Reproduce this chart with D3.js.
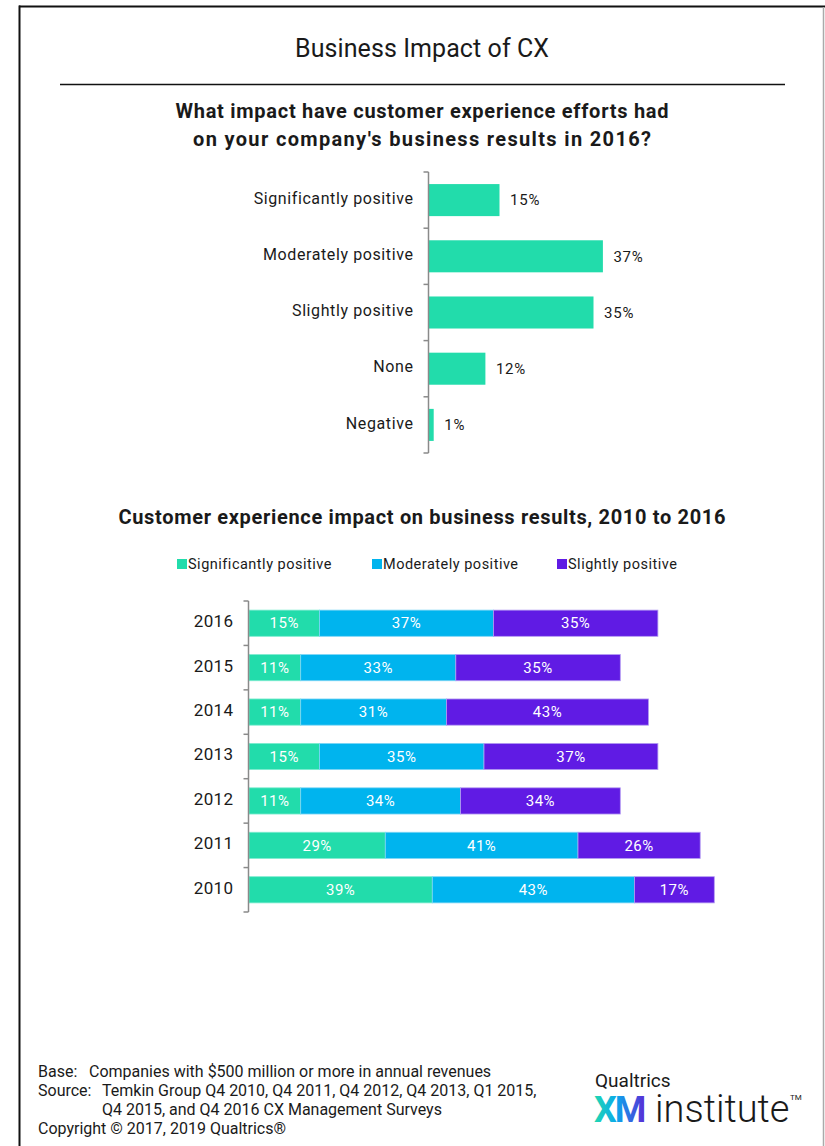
<!DOCTYPE html>
<html>
<head>
<meta charset="utf-8">
<script src="https://cdn.jsdelivr.net/npm/d3@7"></script>
<style>
  html, body { margin: 0; padding: 0; background: #fff; }
  svg { display: block; }
  text { font-family: Roboto, "Liberation Sans", sans-serif; fill: #1a1a1a; }
</style>
</head>
<body>
<svg id="chart" width="825" height="1146"></svg>
<script>
// ---- Data ----
const impactCategories = ["Significantly positive", "Moderately positive", "Slightly positive", "None", "Negative"];
const impactValues = [15, 37, 35, 12, 1];

const years = ["2016", "2015", "2014", "2013", "2012", "2011", "2010"];
const seriesNames = ["Significantly positive", "Moderately positive", "Slightly positive"];
const significantlyPositive = [15, 11, 11, 15, 11, 29, 39];
const moderatelyPositive = [37, 33, 31, 35, 34, 41, 43];
const slightlyPositive = [35, 35, 43, 37, 34, 26, 17];

const colors = ["#22dcab", "#00b4ee", "#601be4"];
const strokeColors = ["#7eecd0", "#7fd6f5", "#b49cf2"];

const svg = d3.select("#chart");

// ---- Frame ----
svg.append("line").attr("x1", 19).attr("x2", 825).attr("y1", 6.5).attr("y2", 6.5)
  .attr("stroke", "#111").attr("stroke-width", 2);
svg.append("line").attr("x1", 19.5).attr("x2", 19.5).attr("y1", 5.5).attr("y2", 1146)
  .attr("stroke", "#111").attr("stroke-width", 2);
svg.append("line").attr("x1", 823.5).attr("x2", 823.5).attr("y1", 7).attr("y2", 1146)
  .attr("stroke", "#aaa").attr("stroke-width", 1.5);

// ---- Headings ----
function heading(y, size, weight, width, str) {
  return svg.append("text").attr("x", 422).attr("y", y).attr("text-anchor", "middle")
    .style("font-size", size + "px").style("font-weight", weight)
    .attr("textLength", width).attr("lengthAdjust", "spacing")
    .text(str);
}
heading(57, 25, "normal", 254, "Business Impact of CX");
svg.append("line").attr("x1", 60).attr("x2", 785).attr("y1", 84.5).attr("y2", 84.5)
  .attr("stroke", "#111").attr("stroke-width", 1.5);
heading(118, 20, "bold", 493, "What impact have customer experience efforts had");
heading(146, 20, "bold", 458, "on your company's business results in 2016?");

// Shared percentage scale for both charts
const x = d3.scaleLinear().domain([0, 100]).range([0, 470]);

// Draws a vertical category axis with tick marks at band boundaries
function boundaryAxis(g, band) {
  const [y0, y1] = band.range();
  const n = band.domain().length;
  const step = band.step();
  g.append("line").attr("x1", 0).attr("x2", 0).attr("y1", y0).attr("y2", y1)
    .attr("stroke", "#8a8a8a").attr("stroke-width", 1.5);
  g.selectAll("line.tick").data(d3.range(n + 1)).join("line")
    .attr("class", "tick")
    .attr("x1", -5).attr("x2", 0)
    .attr("y1", i => y0 + i * step).attr("y2", i => y0 + i * step)
    .attr("stroke", "#8a8a8a").attr("stroke-width", 1.5);
}

// ---- Chart 1: 2016 impact ----
const chart1 = svg.append("g").attr("transform", "translate(428.5,0)");
const yImpact = d3.scaleBand().domain(impactCategories).range([172, 453])
  .paddingInner(0.43).paddingOuter(0.215);

chart1.selectAll("rect.bar").data(impactCategories).join("rect")
  .attr("class", "bar")
  .attr("x", 0.5)
  .attr("y", d => yImpact(d))
  .attr("width", (d, i) => x(impactValues[i]))
  .attr("height", yImpact.bandwidth())
  .attr("fill", colors[0]);

chart1.selectAll("text.val").data(impactCategories).join("text")
  .attr("class", "val")
  .attr("x", (d, i) => x(impactValues[i]) + 11)
  .attr("y", d => yImpact(d) + yImpact.bandwidth() / 2)
  .attr("dy", "0.35em")
  .style("font-size", "15px").style("letter-spacing", "0.8px")
  .text((d, i) => impactValues[i] + "%");

chart1.selectAll("text.cat").data(impactCategories).join("text")
  .attr("class", "cat")
  .attr("x", -15)
  .attr("y", d => yImpact(d) + yImpact.bandwidth() / 2 - 2)
  .attr("dy", "0.35em")
  .attr("text-anchor", "end")
  .style("font-size", "16px").style("letter-spacing", "0.6px")
  .text(d => d);

boundaryAxis(chart1, yImpact);

// ---- Chart 2: trend 2010–2016 ----
heading(524, 20, "bold", 607, "Customer experience impact on business results, 2010 to 2016");

// Legend
const legendX = [177, 372, 557];
const legend = svg.append("g");
seriesNames.forEach((name, i) => {
  legend.append("rect").attr("x", legendX[i]).attr("y", 559).attr("width", 10).attr("height", 10)
    .attr("fill", colors[i]);
  legend.append("text").attr("x", legendX[i] + 11).attr("y", 564).attr("dy", "0.35em")
    .style("font-size", "14.5px").style("letter-spacing", "0.5px").text(name);
});

const rows = years.map((yr, i) => ({
  year: yr,
  values: [significantlyPositive[i], moderatelyPositive[i], slightlyPositive[i]]
}));

const yYears = d3.scaleBand().domain(years).range([601, 912])
  .paddingInner(0.41).paddingOuter(0.205);

const chart2 = svg.append("g").attr("transform", "translate(248.5,0)");

const rowG = chart2.selectAll("g.row").data(rows).join("g")
  .attr("class", "row")
  .attr("transform", d => `translate(0,${yYears(d.year)})`);

rowG.each(function (d) {
  const g = d3.select(this);
  let acc = 0;
  d.values.forEach((v, i) => {
    const x0 = x(acc), w = x(v);
    g.append("rect")
      .attr("x", x0 + 0.5).attr("y", 0)
      .attr("width", w).attr("height", yYears.bandwidth())
      .attr("fill", colors[i])
      .attr("stroke", strokeColors[i]).attr("stroke-width", 0.8);
    g.append("text")
      .attr("x", x0 + w / 2 + 0.5)
      .attr("y", yYears.bandwidth() / 2)
      .attr("dy", "0.35em")
      .attr("text-anchor", "middle")
      .style("font-size", "15px").style("letter-spacing", "0.5px")
      .style("fill", "#fff")
      .text(v + "%");
    acc += v;
  });
});

chart2.selectAll("text.year").data(years).join("text")
  .attr("class", "year")
  .attr("x", -15)
  .attr("y", d => yYears(d) + yYears.bandwidth() / 2 - 2)
  .attr("dy", "0.35em")
  .attr("text-anchor", "end")
  .style("font-size", "17px").style("letter-spacing", "0.4px")
  .text(d => d);

boundaryAxis(chart2, yYears);

// ---- Footer notes ----
const notes = svg.append("g").style("font-size", "16px");
notes.append("text").attr("x", 38).attr("y", 1077).text("Base:");
notes.append("text").attr("x", 89).attr("y", 1077).text("Companies with $500 million or more in annual revenues");
notes.append("text").attr("x", 38).attr("y", 1096).text("Source:");
notes.append("text").attr("x", 102).attr("y", 1096).text("Temkin Group Q4 2010, Q4 2011, Q4 2012, Q4 2013, Q1 2015,");
notes.append("text").attr("x", 102).attr("y", 1115).text("Q4 2015, and Q4 2016 CX Management Surveys");
notes.append("text").attr("x", 38).attr("y", 1134).text("Copyright \u00A9 2017, 2019 Qualtrics\u00AE");

// ---- Logo ----
const defs = svg.append("defs");
const grad = defs.append("linearGradient").attr("id", "xmGrad")
  .attr("x1", "0%").attr("x2", "100%").attr("y1", "0%").attr("y2", "0%");
grad.append("stop").attr("offset", "0%").attr("stop-color", "#21d8b0");
grad.append("stop").attr("offset", "45%").attr("stop-color", "#0aa8ec");
grad.append("stop").attr("offset", "100%").attr("stop-color", "#5a2bd6");

const logo = svg.append("g");
logo.append("text").attr("x", 595).attr("y", 1087).style("font-size", "19px").text("Qualtrics");
logo.append("text").attr("x", 594).attr("y", 1122)
  .style("font-size", "36px").style("font-weight", "bold").style("letter-spacing", "-2px")
  .style("fill", "url(#xmGrad)").text("XM");
logo.append("text").attr("x", 655).attr("y", 1122)
  .style("font-size", "38px").style("font-weight", "300").text("institute");
logo.append("text").attr("x", 790).attr("y", 1100).style("font-size", "8px").text("TM");
</script>
</body>
</html>
